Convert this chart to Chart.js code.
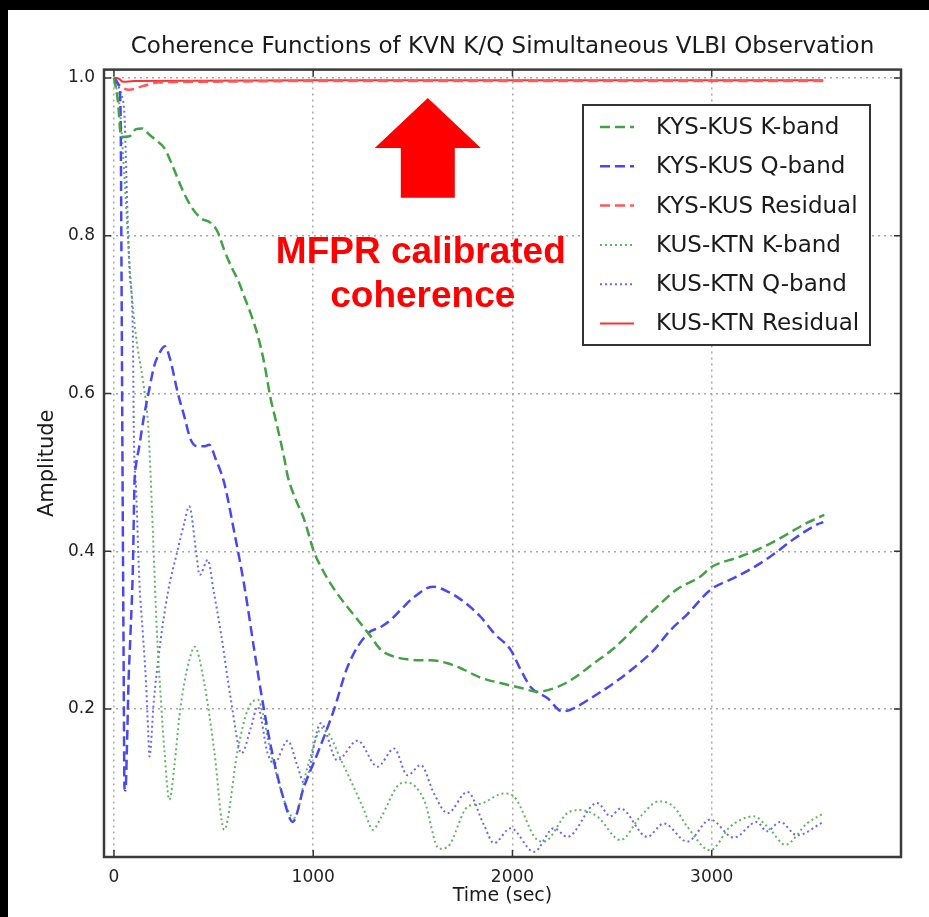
<!DOCTYPE html>
<html>
<head>
<meta charset="utf-8">
<title>Coherence Functions of KVN K/Q Simultaneous VLBI Observation</title>
<script src="https://cdn.jsdelivr.net/npm/chart.js@4.4.1/dist/chart.umd.min.js"></script>
<style>
  html, body { margin: 0; padding: 0; background: #fff; }
  #wrap { width: 929px; height: 917px; }
</style>
</head>
<body>
<div id="wrap"><canvas id="coherenceChart" width="929" height="917"></canvas></div>
<script>
// Axis ticks
const xTicks = [0, 1000, 2000, 3000];
const yTicks = [0.2, 0.4, 0.6, 0.8, 1.0];

const seriesLabels = [
  "KYS-KUS K-band",
  "KYS-KUS Q-band",
  "KYS-KUS Residual",
  "KUS-KTN K-band",
  "KUS-KTN Q-band",
  "KUS-KTN Residual",
];

// KYS-KUS K-band
const kysKusKTime = [0, 20, 36, 78, 111, 140, 178, 215, 253, 295, 337, 387, 437, 487, 520, 553, 590, 622, 655, 688, 720, 753, 785, 813, 853, 873, 910, 955, 1003, 1050, 1105, 1160, 1224, 1280, 1340, 1400, 1474, 1530, 1590, 1674, 1755, 1838, 1939, 2040, 2126, 2226, 2307, 2408, 2509, 2627, 2727, 2827, 2943, 2998, 3128, 3220, 3310, 3395, 3478, 3565];
const kysKusKAmp = [1.0, 0.97, 0.925, 0.926, 0.935, 0.936, 0.928, 0.92, 0.911, 0.888, 0.862, 0.837, 0.822, 0.816, 0.805, 0.782, 0.76, 0.744, 0.722, 0.7, 0.675, 0.64, 0.595, 0.565, 0.52, 0.494, 0.467, 0.44, 0.4, 0.375, 0.352, 0.333, 0.313, 0.295, 0.275, 0.267, 0.263, 0.262, 0.262, 0.258, 0.25, 0.24, 0.233, 0.227, 0.222, 0.228, 0.239, 0.258, 0.277, 0.306, 0.33, 0.352, 0.368, 0.38, 0.392, 0.401, 0.412, 0.424, 0.436, 0.446];

// KYS-KUS Q-band
const kysKusQTime = [0, 25, 33, 38, 43, 48, 53, 58, 65, 73, 83, 95, 103, 111, 125, 150, 177, 202, 230, 255, 280, 321, 353, 386, 420, 452, 478, 512, 553, 604, 655, 704, 739, 788, 853, 897, 953, 1022, 1104, 1173, 1274, 1339, 1389, 1440, 1506, 1600, 1674, 1756, 1840, 1908, 1991, 2041, 2091, 2175, 2251, 2307, 2407, 2509, 2608, 2710, 2793, 2877, 2993, 3110, 3193, 3293, 3409, 3529, 3560];
const kysKusQAmp = [1.0, 0.99, 0.96, 0.75, 0.5, 0.28, 0.1, 0.097, 0.15, 0.233, 0.296, 0.38, 0.486, 0.51, 0.53, 0.57, 0.605, 0.635, 0.652, 0.66, 0.645, 0.6, 0.571, 0.541, 0.533, 0.533, 0.535, 0.516, 0.487, 0.424, 0.355, 0.275, 0.22, 0.152, 0.085, 0.057, 0.101, 0.144, 0.199, 0.254, 0.296, 0.304, 0.313, 0.326, 0.342, 0.355, 0.349, 0.336, 0.317, 0.296, 0.275, 0.25, 0.228, 0.214, 0.197, 0.201, 0.216, 0.233, 0.252, 0.275, 0.3, 0.32, 0.351, 0.366, 0.377, 0.393, 0.415, 0.434, 0.437];

// KYS-KUS Residual
const kysKusResTime = [0, 30, 76, 150, 221, 400, 1000, 2000, 3000, 3560];
const kysKusResAmp = [1.0, 0.99, 0.985, 0.99, 0.994, 0.995, 0.996, 0.996, 0.996, 0.996];

// KUS-KTN K-band
const kusKtnKTime = [0, 30, 45, 86, 111, 145, 170, 178, 196, 215, 236, 253, 278, 303, 328, 353, 378, 405, 453, 503, 553, 621, 671, 721, 788, 853, 904, 972, 1045, 1155, 1255, 1300, 1339, 1440, 1470, 1556, 1632, 1673, 1774, 1840, 1957, 2008, 2125, 2158, 2275, 2342, 2425, 2542, 2643, 2735, 2810, 2877, 2993, 3093, 3210, 3294, 3369, 3478, 3562];
const kusKtnKAmp = [1.0, 0.96, 0.905, 0.736, 0.672, 0.617, 0.565, 0.53, 0.42, 0.3, 0.21, 0.148, 0.085, 0.127, 0.19, 0.233, 0.262, 0.279, 0.233, 0.148, 0.047, 0.148, 0.199, 0.212, 0.144, 0.085, 0.062, 0.127, 0.176, 0.127, 0.072, 0.047, 0.062, 0.106, 0.107, 0.085, 0.023, 0.025, 0.076, 0.08, 0.093, 0.089, 0.034, 0.032, 0.068, 0.072, 0.064, 0.034, 0.064, 0.083, 0.076, 0.051, 0.021, 0.051, 0.064, 0.047, 0.028, 0.055, 0.068];

// KUS-KTN Q-band
const kusKtnQTime = [0, 35, 53, 66, 78, 95, 100, 111, 128, 145, 161, 172, 178, 200, 228, 270, 320, 353, 378, 412, 430, 471, 500, 537, 587, 640, 688, 721, 771, 804, 872, 922, 955, 1038, 1121, 1222, 1323, 1406, 1473, 1540, 1606, 1674, 1774, 1857, 1907, 1991, 2108, 2208, 2275, 2425, 2492, 2542, 2676, 2760, 2877, 2993, 3110, 3227, 3276, 3344, 3428, 3560];
const kusKtnQAmp = [1.0, 0.98, 0.951, 0.842, 0.757, 0.672, 0.545, 0.48, 0.36, 0.296, 0.233, 0.17, 0.14, 0.21, 0.275, 0.347, 0.402, 0.436, 0.457, 0.4, 0.37, 0.389, 0.35, 0.296, 0.212, 0.144, 0.177, 0.203, 0.144, 0.131, 0.16, 0.127, 0.106, 0.182, 0.135, 0.16, 0.127, 0.15, 0.116, 0.129, 0.093, 0.068, 0.095, 0.053, 0.03, 0.049, 0.019, 0.049, 0.038, 0.081, 0.064, 0.074, 0.038, 0.055, 0.032, 0.06, 0.037, 0.057, 0.045, 0.057, 0.04, 0.057];

// KUS-KTN Residual
const kusKtnResTime = [0, 25, 46, 100, 1000, 2000, 3000, 3560];
const kusKtnResAmp = [1.0, 0.999, 0.995, 0.996, 0.997, 0.997, 0.997, 0.997];

const FONT = "'DejaVu Sans', sans-serif";

function toPoints(times, amps) {
  return times.map((t, i) => ({ x: t, y: amps[i] }));
}

function lineSet(label, times, amps, color, dash, width) {
  return {
    label: label,
    data: toPoints(times, amps),
    borderColor: color,
    backgroundColor: color,
    borderDash: dash,
    borderWidth: width,
    borderCapStyle: "butt",
    pointRadius: 0,
    fill: false,
    cubicInterpolationMode: "monotone",
  };
}

// page background + black edges of the scanned slide
const backdrop = {
  id: "backdrop",
  beforeDraw(chart) {
    const ctx = chart.ctx;
    ctx.save();
    ctx.fillStyle = "#fff";
    ctx.fillRect(0, 0, chart.width, chart.height);
    ctx.fillStyle = "#000";
    ctx.fillRect(0, 0, chart.width, 10);
    ctx.fillRect(0, 0, 8, chart.height);
    ctx.restore();
  },
};

// box around the plot and inward tick marks (matplotlib look)
const frame = {
  id: "frame",
  afterDatasetsDraw(chart) {
    const { ctx, chartArea: a, scales } = chart;
    ctx.save();
    ctx.strokeStyle = "#333";
    ctx.lineWidth = 1.5;
    xTicks.forEach((v) => {
      const px = scales.x.getPixelForValue(v);
      ctx.beginPath();
      ctx.moveTo(px, a.bottom);
      ctx.lineTo(px, a.bottom - 7);
      ctx.moveTo(px, a.top);
      ctx.lineTo(px, a.top + 7);
      ctx.stroke();
    });
    yTicks.forEach((v) => {
      const py = scales.y.getPixelForValue(v);
      ctx.beginPath();
      ctx.moveTo(a.left, py);
      ctx.lineTo(a.left + 7, py);
      ctx.moveTo(a.right, py);
      ctx.lineTo(a.right - 7, py);
      ctx.stroke();
    });
    ctx.strokeStyle = "#3a3a3a";
    ctx.lineWidth = 2.5;
    ctx.strokeRect(a.left, a.top, a.right - a.left, a.bottom - a.top);
    ctx.restore();
  },
};

// red arrow and label pasted on the slide
const annotation = {
  id: "annotation",
  afterDatasetsDraw(chart) {
    const { ctx, scales } = chart;
    const cx = scales.x.getPixelForValue(1575);
    const tip = scales.y.getPixelForValue(0.9745);
    const neck = scales.y.getPixelForValue(0.911);
    const base = scales.y.getPixelForValue(0.848);
    ctx.save();
    ctx.fillStyle = "#ff0000";
    ctx.beginPath();
    ctx.moveTo(cx, tip);
    ctx.lineTo(cx + 53, neck);
    ctx.lineTo(cx + 27, neck);
    ctx.lineTo(cx + 27, base);
    ctx.lineTo(cx - 27, base);
    ctx.lineTo(cx - 27, neck);
    ctx.lineTo(cx - 53, neck);
    ctx.closePath();
    ctx.fill();
    ctx.font = "bold 37px 'Liberation Sans', Arial, sans-serif";
    ctx.textAlign = "center";
    ctx.textBaseline = "alphabetic";
    ctx.fillText("MFPR calibrated", cx - 7, 263);
    ctx.fillText("coherence", cx - 5, 307);
    ctx.restore();
  },
};

// legend box inside the plot, upper right
const boxLegend = {
  id: "boxLegend",
  afterDraw(chart) {
    const ctx = chart.ctx;
    const x0 = 583, y0 = 105, w = 287, h = 240;
    ctx.save();
    ctx.fillStyle = "#fff";
    ctx.fillRect(x0, y0, w, h);
    ctx.strokeStyle = "#333";
    ctx.lineWidth = 2;
    ctx.strokeRect(x0, y0, w, h);
    ctx.font = "23px " + FONT;
    ctx.textBaseline = "middle";
    ctx.textAlign = "left";
    chart.data.datasets.forEach((ds, i) => {
      const y = 127 + i * 39.3;
      ctx.strokeStyle = ds.borderColor;
      ctx.lineWidth = ds.borderWidth;
      ctx.setLineDash(ds.borderDash || []);
      ctx.beginPath();
      ctx.moveTo(600, y);
      ctx.lineTo(634, y);
      ctx.stroke();
      ctx.setLineDash([]);
      ctx.fillStyle = "#1a1a1a";
      ctx.fillText(ds.label, 656, y + 1);
    });
    ctx.restore();
  },
};

const canvas = document.getElementById("coherenceChart");
new Chart(canvas, {
  type: "line",
  data: {
    datasets: [
      lineSet(seriesLabels[0], kysKusKTime, kysKusKAmp, "#44a044", [10, 5], 2.5),
      lineSet(seriesLabels[1], kysKusQTime, kysKusQAmp, "#4848f0", [10, 5], 2.5),
      lineSet(seriesLabels[2], kysKusResTime, kysKusResAmp, "#ff5a5a", [10, 5], 2.5),
      lineSet(seriesLabels[3], kusKtnKTime, kusKtnKAmp, "#62b462", [2, 3], 2),
      lineSet(seriesLabels[4], kusKtnQTime, kusKtnQAmp, "#6868f2", [2, 3], 2),
      lineSet(seriesLabels[5], kusKtnResTime, kusKtnResAmp, "#ff3030", [], 2),
    ],
  },
  options: {
    responsive: false,
    animation: false,
    devicePixelRatio: 1,
    layout: { padding: { left: 0, right: 28, top: 0, bottom: 0 } },
    plugins: {
      legend: { display: false },
      tooltip: { enabled: false },
      title: {
        display: true,
        fullSize: false,
        text: "Coherence Functions of KVN K/Q Simultaneous VLBI Observation",
        color: "#1a1a1a",
        font: { family: FONT, size: 23, weight: "normal" },
        padding: { top: 33, bottom: 9 },
      },
    },
    scales: {
      x: {
        type: "linear",
        min: -50,
        max: 3950,
        afterBuildTicks: (s) => { s.ticks = xTicks.map((v) => ({ value: v })); },
        afterFit: (s) => { s.height = 60; },
        grid: { color: "#a8a8a8", lineWidth: 1.5, drawTicks: false },
        border: { display: false, dash: [2, 4] },
        ticks: {
          color: "#222",
          padding: 10,
          maxRotation: 0,
          font: { family: FONT, size: 17 },
          callback: (v) => String(v),
        },
        title: {
          display: true,
          text: "Time (sec)",
          color: "#1a1a1a",
          font: { family: FONT, size: 19 },
          padding: { top: 0, bottom: 10 },
        },
      },
      y: {
        type: "linear",
        min: 0.0125,
        max: 1.0105,
        afterBuildTicks: (s) => { s.ticks = yTicks.map((v) => ({ value: v })); },
        afterFit: (s) => { s.width = 104; },
        grid: { color: "#a8a8a8", lineWidth: 1.5, drawTicks: false },
        border: { display: false, dash: [2, 4] },
        ticks: {
          color: "#222",
          padding: 9,
          font: { family: FONT, size: 17 },
          callback: (v) => Number(v).toFixed(1),
        },
        title: {
          display: true,
          text: "Amplitude",
          color: "#1a1a1a",
          font: { family: FONT, size: 21 },
          padding: { top: 35, bottom: 0 },
        },
      },
    },
  },
  plugins: [backdrop, frame, annotation, boxLegend],
});
</script>
</body>
</html>
